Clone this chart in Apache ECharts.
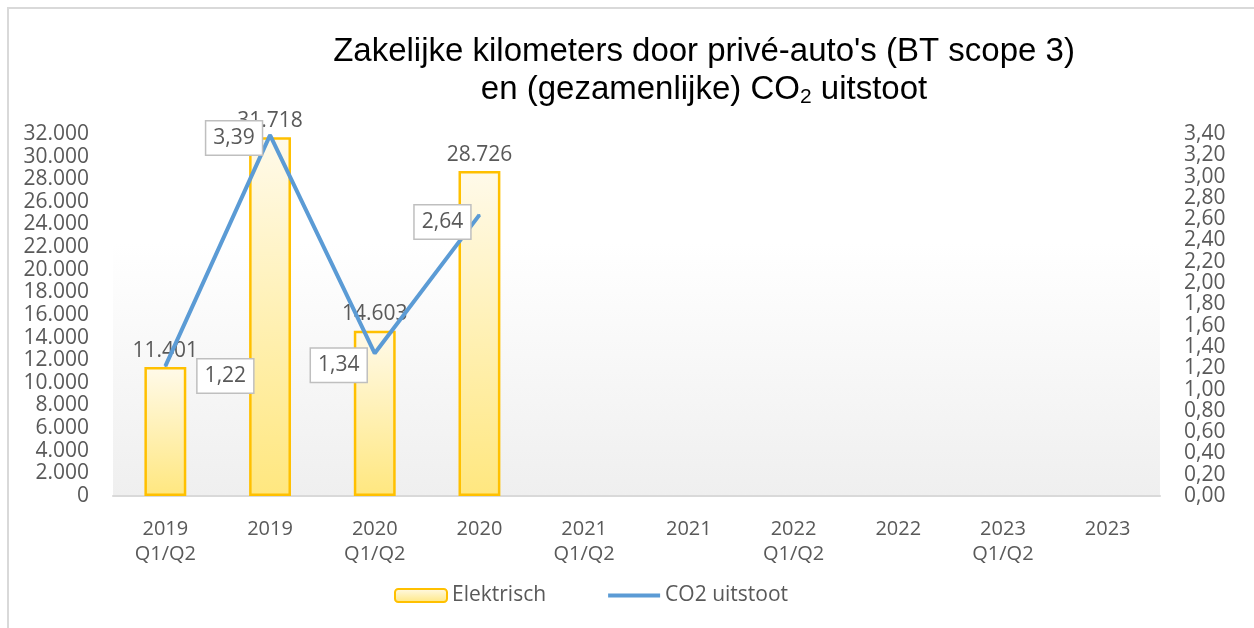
<!DOCTYPE html>
<html>
<head>
<meta charset="utf-8">
<script src="https://cdn.jsdelivr.net/npm/echarts@6/dist/echarts.min.js"></script>
<style>
  html, body { margin: 0; padding: 0; background: #fff; overflow: hidden; }
  #chart { width: 1254px; height: 628px; }
</style>
</head>
<body>
<div id="chart"></div>
<script>
// categorieen (halfjaar / jaar)
const categories = ['2019\nQ1/Q2', '2019', '2020\nQ1/Q2', '2020', '2021\nQ1/Q2', '2021', '2022\nQ1/Q2', '2022', '2023\nQ1/Q2', '2023']
// km elektrisch
const elektrisch = [11401, 31718, 14603, 28726, null, null, null, null, null, null]
// CO2 uitstoot
const co2 = [1.22, 3.39, 1.34, 2.64, null, null, null, null, null, null]
// waar de callouts staan t.o.v. het punt
const calloutOffsets = [[60, 10], [-36, 3], [-36, 12], [-37, 7]]

const grijs = '#595959'
const font = 'Open Sans'

function nlThousands(v) {
  return String(v).replace(/\B(?=(\d{3})+(?!\d))/g, '.')
}

let ch = echarts.init(document.getElementById('chart'))
let option = {
  animation: false,
  graphic: [
    {
      type: 'rect',
      shape: { x: 8, y: 8, width: 1400, height: 800 },
      style: { fill: 'none', stroke: '#d9d9d9', lineWidth: 2 },
      silent: true
    },
    {
      type: 'text',
      x: 704,
      y: 33,
      style: {
        text: 'Zakelijke kilometers door privé-auto\'s (BT scope 3)\nen (gezamenlijke) CO{sub|2} uitstoot',
        font: '33px "Liberation Sans", Arial, sans-serif',
        fill: '#000',
        align: 'center',
        lineHeight: 38,
        rich: {
          sub: { fontSize: 21, fontFamily: 'Liberation Sans', padding: [14, 0, 0, 0] }
        }
      }
    }
  ],
  legend: {
    left: 389,
    top: 580,
    itemWidth: 52,
    itemHeight: 13,
    itemGap: 60,
    textStyle: { color: grijs, fontSize: 21, fontFamily: font },
    data: [
      { name: 'Elektrisch' },
      { name: 'CO2 uitstoot', itemStyle: { opacity: 0 }, lineStyle: { width: 4 } }
    ]
  },
  grid: {
    left: 113,
    right: 94,
    top: 134,
    bottom: 132,
    show: true,
    borderWidth: 0,
    backgroundColor: {
      type: 'linear', x: 0, y: 0, x2: 0, y2: 1,
      colorStops: [
        { offset: 0, color: '#ffffff' },
        { offset: 0.3, color: '#ffffff' },
        { offset: 1, color: '#efefef' }
      ]
    }
  },
  xAxis: {
    type: 'category',
    data: categories,
    axisLine: { show: true, lineStyle: { color: '#d9d9d9', width: 2 } },
    axisTick: { show: false },
    axisLabel: {
      interval: 0,
      color: grijs,
      fontSize: 20,
      fontFamily: font,
      lineHeight: 25,
      margin: 21
    }
  },
  yAxis: [
    {
      type: 'value',
      min: 0,
      max: 32000,
      interval: 2000,
      axisLine: { show: false },
      axisTick: { show: false },
      splitLine: { show: false },
      axisLabel: {
        color: grijs,
        fontSize: 21,
        fontFamily: font,
        margin: 24,
        formatter: v => nlThousands(v)
      }
    },
    {
      type: 'value',
      min: 0,
      max: 3.4,
      interval: 0.2,
      axisLine: { show: false },
      axisTick: { show: false },
      splitLine: { show: false },
      axisLabel: {
        color: grijs,
        fontSize: 21,
        fontFamily: font,
        margin: 24,
        formatter: v => v.toFixed(2).replace('.', ',')
      }
    }
  ],
  series: [
    {
      name: 'Elektrisch',
      type: 'bar',
      data: elektrisch,
      barWidth: '40%',
      itemStyle: {
        color: {
          type: 'linear', x: 0, y: 0, x2: 0, y2: 1,
          colorStops: [
            { offset: 0, color: '#fffaea' },
            { offset: 1, color: '#ffe77f' }
          ]
        },
        borderColor: '#ffc000',
        borderWidth: 2.5
      },
      label: {
        show: true,
        position: 'top',
        distance: 6,
        color: grijs,
        fontSize: 21,
        fontFamily: font,
        formatter: p => nlThousands(p.value)
      }
    },
    {
      name: 'CO2 uitstoot',
      type: 'line',
      yAxisIndex: 1,
      data: co2.map((v, i) => ({
        value: v,
        label: calloutOffsets[i] ? { offset: calloutOffsets[i] } : undefined
      })),
      symbol: 'circle',
      symbolSize: 2,
      lineStyle: { color: '#5b9bd5', width: 4 },
      itemStyle: { color: '#5b9bd5' },
      label: {
        show: true,
        position: 'inside',
        color: grijs,
        fontSize: 21,
        fontFamily: font,
        backgroundColor: '#ffffff',
        borderColor: '#bfbfbf',
        borderWidth: 1.5,
        padding: [6, 7, 6, 7],
        formatter: p => p.value == null ? '' : p.value.toFixed(2).replace('.', ',')
      }
    }
  ]
}
ch.setOption(option)
</script>
</body>
</html>
